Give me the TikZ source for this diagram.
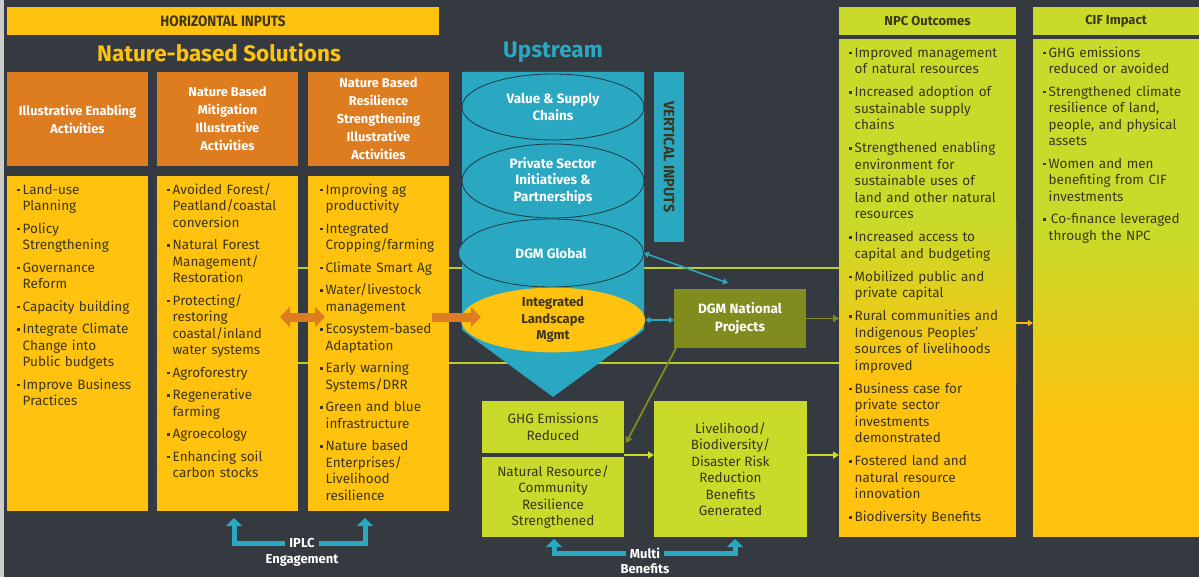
\documentclass[tikz,border=0pt]{standalone}
\usepackage{fontspec}
\setmainfont{Fira Sans}
\usetikzlibrary{shapes.geometric,arrows.meta,calc,backgrounds}

\definecolor{slate}{RGB}{52,58,64}
\definecolor{sun}{RGB}{255,194,14}
\definecolor{ember}{RGB}{222,124,32}
\definecolor{sky}{RGB}{42,167,193}
\definecolor{limeg}{RGB}{201,218,42}
\definecolor{olivg}{RGB}{128,140,30}
\definecolor{ink}{RGB}{62,54,26}
\definecolor{rim}{RGB}{28,58,66}
\definecolor{rail}{RGB}{190,206,40}
\definecolor{amber}{RGB}{245,185,15}

% condensed look for the bar titles
\newcommand\cond[2][0.9]{\scalebox{#1}[1]{#2}}
% bullet items with a hanging indent
\newdimen\itemgap \itemgap=6pt
\newcommand\bdot{\makebox[5.5pt][l]{\raisebox{0.22em}{\rule{2.6pt}{2.6pt}}}}
\newcommand\bfirst[1]{\par\hangindent=5.5pt\hangafter=1\noindent\bdot#1\par}
\newcommand\bitem[1]{\par\vskip\itemgap\hangindent=5.5pt\hangafter=1\noindent\bdot#1\par}

\tikzset{
  panel/.style={inner sep=0pt, outer sep=0pt, anchor=north west, draw=none},
  bodytext/.style={anchor=north west, inner sep=0pt, text=ink, align=left,
    font=\fontsize{13.5}{16.5}\selectfont},
  hdr/.style={panel, fill=ember, minimum width=141, minimum height=94, text=white,
    align=center, font=\bfseries\fontsize{12.8}{18}\selectfont},
  col/.style={panel, fill=sun, minimum width=141, minimum height=335},
  ell/.style={ellipse, draw=rim, line width=0.8pt, fill=sky, inner sep=0pt,
    text=white, align=center, font=\bfseries\fontsize{13.5}{16.5}\selectfont},
  limebox/.style={panel, fill=limeg, text=ink, align=center,
    font=\fontsize{13.5}{16.5}\selectfont},
  lbl/.style={inner sep=4pt, text=white, font=\bfseries\fontsize{13}{14}\selectfont},
  railline/.style={draw=rail, line width=2pt},
  cyarr/.style={draw=sky, line width=1.6pt,
    {Triangle[length=5pt,width=6pt]}-{Triangle[length=5pt,width=6pt]}},
  olarr/.style={draw=olivg, line width=1.8pt, -{Triangle[length=6pt,width=7pt]}},
  limarr/.style={draw=limeg, line width=1.8pt, -{Triangle[length=6pt,width=7pt]}},
  ambarr/.style={draw=amber, line width=1.8pt, -{Triangle[length=5pt,width=6pt]}},
  bigarr/.style={draw=ember, line width=9pt, -{Triangle[length=10pt,width=20pt]}},
  bigdarr/.style={draw=ember, line width=9pt,
    {Triangle[length=10pt,width=20pt]}-{Triangle[length=10pt,width=20pt]}},
  engage/.style={draw=sky, line width=5pt, -{Triangle[length=8pt,width=16pt]}},
}

\begin{document}
\begin{tikzpicture}[x=1pt,y=-1pt]
\useasboundingbox (0,0) rectangle (1199,577);
\begin{pgfonlayer}{background}
  \fill[slate] (0,0) rectangle (1199,577);
  \fill[black!20] (0,0) rectangle (4,577);
\end{pgfonlayer}

% ---------- horizontal inputs ----------
\node[panel, fill=sun, minimum width=432, minimum height=28, text=ink] (hin) at (7,7)
  {\cond{\bfseries\fontsize{15}{15}\selectfont HORIZONTAL INPUTS}};
\node[font=\bfseries\fontsize{22.5}{24}\selectfont, text=sun] (nbs) at (219,53) {Nature-based Solutions};

\node[hdr] (h1) at (7,72) {Illustrative Enabling\\Activities};
\node[hdr] (h2) at (157,72) {Nature Based\\Mitigation\\Illustrative\\Activities};
\node[hdr] (h3) at (308,72) {Nature Based\\Resilience\\Strengthening\\Illustrative\\Activities};

\node[col] (m1) at (7,176) {};
\node[col] (m2) at (157,176) {};
\node[col] (m3) at (308,176) {};

\node[bodytext, text width=132] (t1) at (17,177.5) {%
  \bfirst{Land-use\newline Planning}
  \bitem{Policy\newline Strengthening}
  \bitem{Governance\newline Reform}
  \bitem{Capacity building}
  \bitem{Integrate Climate\newline Change into\newline Public budgets}
  \bitem{Improve Business\newline Practices}};

\node[bodytext, text width=132] (t2) at (167,177.5) {%
  \bfirst{Avoided Forest/\newline Peatland/coastal\newline conversion}
  \bitem{Natural Forest\newline Management/\newline Restoration}
  \bitem{Protecting/\newline restoring\newline coastal/inland\newline water systems}
  \bitem{Agroforestry}
  \bitem{Regenerative\newline farming}
  \bitem{Agroecology}
  \bitem{Enhancing soil\newline carbon stocks}};

\node[bodytext, text width=130] (t3) at (320,177.5) {%
  \bfirst{Improving ag\newline productivity}
  \bitem{Integrated\newline Cropping/farming}
  \bitem{Climate Smart Ag}
  \bitem{Water/livestock\newline management}
  \bitem{Ecosystem-based\newline Adaptation}
  \bitem{Early warning\newline Systems/DRR}
  \bitem{Green and blue\newline infrastructure}
  \bitem{Nature based\newline Enterprises/\newline Livelihood\newline resilience}};

% ---------- outcome and impact columns ----------
\fill[limeg] (839,39) rectangle (1016,221);
\shade[top color=limeg, bottom color=sun] (839,220) rectangle (1016,381);
\fill[sun] (839,380) rectangle (1016,537);
\fill[limeg] (1033,39) rectangle (1199,231);
\shade[top color=limeg, bottom color=sun] (1033,230) rectangle (1199,431);
\fill[sun] (1033,430) rectangle (1199,537);

\node[panel, fill=limeg, minimum width=177, minimum height=28, text=ink,
  font=\bfseries\fontsize{13}{14}\selectfont] (npch) at (839,7) {NPC Outcomes};
\node[panel, fill=limeg, minimum width=166, minimum height=28, text=ink,
  font=\bfseries\fontsize{13}{14}\selectfont] (cifh) at (1033,7) {CIF Impact};
\node[panel, minimum width=177, minimum height=498] (npc) at (839,39) {};
\node[panel, minimum width=166, minimum height=498] (cif) at (1033,39) {};

\node[bodytext, text width=166] (tn) at (849,40.5) {\itemgap=6.5pt
  \bfirst{Improved management\newline of natural resources}
  \bitem{Increased adoption of\newline sustainable supply\newline chains}
  \bitem{Strengthened enabling\newline environment for\newline sustainable uses of\newline land and other natural\newline resources}
  \bitem{Increased access to\newline capital and budgeting}
  \bitem{Mobilized public and\newline private capital}
  \bitem{Rural communities and\newline Indigenous Peoples’\newline sources of livelihoods\newline improved}
  \bitem{Business case for\newline private sector\newline investments\newline demonstrated}
  \bitem{Fostered land and\newline natural resource\newline innovation}
  \bitem{Biodiversity Benefits}};

\node[bodytext, text width=154] (tc) at (1043,40.5) {%
  \bfirst{GHG emissions\newline reduced or avoided}
  \bitem{Strengthened climate\newline resilience of land,\newline people, and physical\newline assets}
  \bitem{Women and men\newline benefiting from CIF\newline investments}
  \bitem{\,Co-finance leveraged\newline through the NPC}};

% ---------- upstream funnel ----------
\node[font=\bfseries\fontsize{22.5}{24}\selectfont, text=sky] (ups) at (553,52) {Upstream};
\fill[sky] (462,72) -- (644,72) -- (644,330) -- (553,397) -- (462,330) -- cycle;
\node[ell, minimum width=182, minimum height=66] (vsc) at (553,107) {Value \& Supply\\Chains};
\node[ell, minimum width=182, minimum height=74] (psi) at (553,181) {Private Sector\\Initiatives \&\\Partnerships};
\node[ell, minimum width=185, minimum height=68] (dgmg) at (551,253) {DGM Global};
\node[ellipse, fill=sun, inner sep=0pt, minimum width=184, minimum height=62, text=ink,
  align=center, font=\bfseries\fontsize{13}{16.5}\selectfont] (ilm) at (553,320)
  {Integrated\\Landscape\\Mgmt};

\node[fill=sky, inner sep=0pt, minimum width=170, minimum height=30, rotate=-90, text=ink]
  (vin) at (669,157) {\cond[0.95]{\bfseries\fontsize{15}{15}\selectfont VERTICAL INPUTS}};

\node[panel, fill=olivg, minimum width=132, minimum height=59, text=white, align=center,
  font=\bfseries\fontsize{13.5}{18}\selectfont] (dgmn) at (674,289) {DGM National\\Projects};

% ---------- benefit boxes ----------
\node[limebox, minimum width=142, minimum height=52] (ghg) at (482,401) {GHG Emissions\\Reduced};
\node[limebox, minimum width=142, minimum height=80] (nr) at (482,457)
  {Natural Resource/\\Community\\Resilience\\Strengthened};
\node[limebox, minimum width=153, minimum height=136] (lh) at (654,401)
  {Livelihood/\\Biodiversity/\\Disaster Risk\\Reduction\\Benefits\\Generated};

% ---------- rails across the middle ----------
\begin{pgfonlayer}{background}
  \coordinate (r1) at (298,268);
  \coordinate (r2) at (298,363);
  \draw[railline] (r1) -- (r1 -| npc.west);
  \draw[railline] (r2) -- (r2 -| npc.west);
\end{pgfonlayer}

% ---------- connectors ----------
\draw[bigdarr] ($(m2.east |- ilm.center)+(-18,-3)$) -- ($(m3.west |- ilm.center)+(17,-3)$);
\draw[bigarr] ($(m3.east |- ilm.center)+(-17,-3)$) -- ($(ilm.west)+(20,-3)$);

\coordinate (dgmtip) at (728,283);
\draw[cyarr] (dgmg.east) -- (dgmtip);
\draw[cyarr] (ilm.east) -- (dgmn.west |- ilm.east);
\draw[olarr] (dgmn.east) -- (dgmn.east -| npc.west);
\draw[olarr] ([xshift=2pt]dgmn.south west) -- ($(ghg.south east)+(2,-10)$);

\coordinate (jn) at ($(ghg.south east)!0.5!(nr.north east)$);
\draw[limarr] (jn) -- (jn -| lh.west);
\draw[limarr] (lh.east |- jn) -- (jn -| npc.west);
\draw[ambarr] ($(npc.east)+(0,35)$) -- ($(cif.west)+(0,35)$);

% ---------- engagement and multi-benefit arrows ----------
\node[lbl] (iplc) at (302,543) {IPLC};
\node[lbl] (eng) at (302,560) {Engagement};
\draw[engage] (iplc.west) -| ($(m2.south)+(6.5,7)$);
\draw[engage] (iplc.east) -| ($(m3.south)+(-13.5,7)$);

\node[lbl] (mb1) at (645,553) {Multi};
\node[lbl] (mb2) at (645,569) {Benefits};
\draw[engage] (mb1.west) -| ($(nr.south)+(1,2)$);
\draw[engage] (mb1.east) -| ($(lh.south)+(4.5,2)$);
\end{tikzpicture}
\end{document}
